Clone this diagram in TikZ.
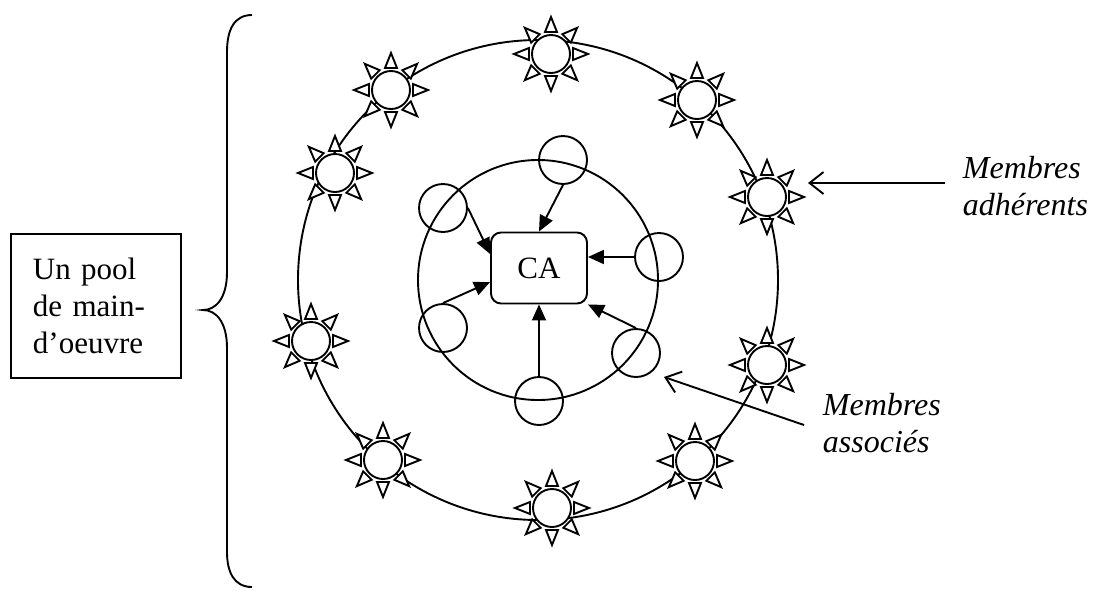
\documentclass[tikz,border=0pt]{standalone}
\usepackage{fontspec}
\setmainfont{Liberation Serif}
\usepackage{tikz}
\usetikzlibrary{arrows.meta,calc,positioning,shapes}

\tikzset{
  sunicon/.pic={
    \foreach \a in {0,45,...,315}
      \draw[rotate=\a, fill=white] (-6,22) -- (6,22) -- (0,37) -- cycle;
    \draw[fill=white] (0,0) circle (19pt);
  },
  member/.style={draw, circle, minimum size=48pt, inner sep=0pt},
  feed/.style={-{Triangle[length=16pt,width=14pt]}},
  pointer/.style={-{Straight Barb[length=14pt,width=22pt]}},
  caption/.style={anchor=north west, align=left, inner sep=0pt, font=\fontsize{32}{37}\selectfont\itshape},
}

\begin{document}
\begin{tikzpicture}[x=1pt, y=-1pt, line width=1.9pt, font=\fontsize{31}{37}\selectfont]
\useasboundingbox (0,0) rectangle (1093,590);
\coordinate (O) at (538,280);
%
% outer ring of members
\draw (O) circle (240pt);
\foreach \sx/\sy [count=\i] in {551/54,697/100,767/197,767/365,695/461,552/508,383/460,311/341,335/173,391/90}
  \coordinate (s\i) at (\sx,\sy);
\foreach \i in {1,...,10}
  \pic at (s\i) {sunicon};
%
% inner ring
\draw (O) circle (120pt);
\node[draw, rounded corners=10pt, minimum width=96pt, minimum height=71pt] (ca) at (539,268) {CA};
\node[member] (m1) at (563,160) {};
\node[member] (m2) at (443,208) {};
\node[member] (m3) at (659,257) {};
\node[member] (m4) at (443,328) {};
\node[member] (m5) at (636,353) {};
\node[member] (m6) at (539,401) {};
%
\draw[feed] (m1.south) -- (ca.north);
\draw[feed] (m2.east) -- (ca.164);
\draw[feed] (m3.west) -- (ca.east |- m3.west);
\draw[feed] (m4.north) -- (ca.196);
\draw[feed] (m5.north) -- (ca.south east);
\draw[feed] (m6.north) -- (ca.south);
%
% label and brace
\node[draw, anchor=north west, text width=126pt, inner xsep=22pt, inner ysep=0pt, minimum height=144pt, align=left] (pool) at (10,233) {Un pool\\de main-\\d’oeuvre};
\coordinate (btop) at (252,15);
\coordinate (btip) at (203,310);
\coordinate (bbot) at (252,587);
\draw (btop) .. controls (234,15) and (227,30) .. (227,52) -- (227,272)
  .. controls (227,298) and (216,310) .. (btip)
  .. controls (216,310) and (227,322) .. (227,348) -- (227,552)
  .. controls (227,572) and (234,587) .. (bbot);
%
% captions
\node[caption] (adh) at (962,155) {Membres\\adhérents};
\node[caption] (asso) at (822,392) {Membres\\associés};
\coordinate (adhtail) at (945,183);
\coordinate (adhtip) at (808,183);
\draw[pointer] (adhtail) -- (adhtip);
\coordinate (assotail) at (804,425);
\coordinate (assotip) at (664,377);
\draw[pointer] (assotail) -- (assotip);
\end{tikzpicture}
\end{document}
